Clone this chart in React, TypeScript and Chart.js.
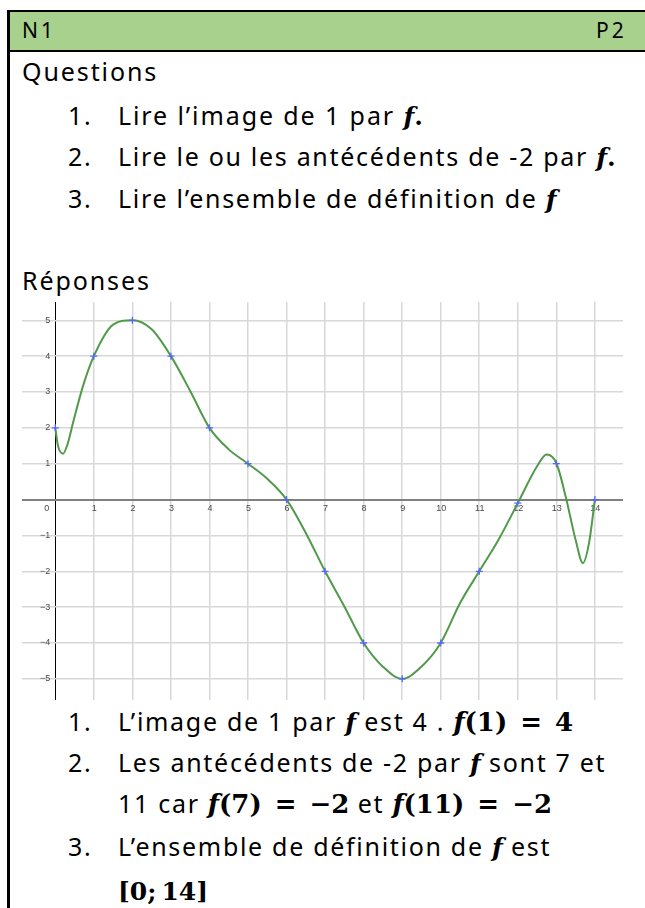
import React, { useEffect, useRef } from "react";
import { Chart, registerables } from "chart.js";

Chart.register(...registerables);

// ---- data ----
const curveX = [0, 0.07, 0.2, 0.32, 0.46, 0.72, 1, 1.5, 2, 2.5, 3, 3.5, 4, 4.5, 5, 5.5, 6, 6.5, 7, 7.5, 8, 8.5, 9, 9.5, 10, 10.5, 11, 11.5, 12, 12.5, 12.75, 13, 13.25, 13.5, 13.69, 13.85, 14];
const curveY = [2, 1.5, 1.28, 1.55, 2.14, 3.17, 4, 4.88, 5, 4.75, 4, 3.03, 2, 1.4, 1, 0.58, 0, -0.93, -2, -2.98, -4, -4.66, -5, -4.66, -4, -2.89, -2, -1.12, -0.1, 0.93, 1.26, 1.02, 0.05, -1.12, -1.77, -1.2, 0];
const markX = [0, 1, 2, 3, 4, 5, 6, 7, 8, 9, 10, 11, 12, 13, 14];
const markY = [2, 4, 5, 4, 2, 1, 0, -2, -4, -5, -4, -2, -0.1, 1, 0];
const xTicks = [0, 1, 2, 3, 4, 5, 6, 7, 8, 9, 10, 11, 12, 13, 14];
const yTicks = [-5, -4, -3, -2, -1, 0, 1, 2, 3, 4, 5];
const xRange = [-0.864, 14.73];
const yRange = [-5.59, 5.51];

const HAND = '"Noto Sans", sans-serif';
const MATH = '"DejaVu Serif", "Liberation Serif", serif';

const axisLabels = {
  id: "axisLabels",
  beforeDatasetsDraw(chart: any) {
    const { ctx, scales } = chart;
    const sx = scales.x;
    const sy = scales.y;
    const x0 = sx.getPixelForValue(0);
    const y0 = sy.getPixelForValue(0);
    ctx.save();
    ctx.font = '9px "Liberation Sans", Arial, sans-serif';
    ctx.fillStyle = "#4a4a4a";
    ctx.textAlign = "center";
    ctx.textBaseline = "top";
    xTicks.forEach((v) => {
      const px = sx.getPixelForValue(v) + (v === 0 ? -8.5 : 0.5);
      ctx.fillText(String(v), px, y0 + 4);
    });
    ctx.textAlign = "right";
    ctx.textBaseline = "middle";
    yTicks
      .filter((v) => v !== 0)
      .forEach((v) => {
        ctx.fillText(v < 0 ? "\u2212" + -v : String(v), x0 - 5, sy.getPixelForValue(v));
      });
    ctx.restore();
  },
};

function Graph() {
  const ref = useRef<HTMLCanvasElement | null>(null);
  useEffect(() => {
    if (!ref.current) return;
    const chart = new Chart(ref.current, {
      type: "line",
      data: {
        datasets: [
          {
            label: "points",
            data: markX.map((v, i) => ({ x: v, y: markY[i] })),
            showLine: false,
            pointStyle: "cross",
            pointRadius: 3.5,
            pointBorderColor: "#5566ff",
            pointBorderWidth: 1.3,
            borderColor: "#5566ff",
          },
          {
            label: "f",
            data: curveX.map((v, i) => ({ x: v, y: curveY[i] })),
            borderColor: "#519a4a",
            borderWidth: 2,
            pointRadius: 0,
            cubicInterpolationMode: "monotone",
            fill: false,
          },
        ],
      },
      options: {
        animation: false,
        responsive: true,
        maintainAspectRatio: false,
        events: [],
        layout: { padding: 0, autoPadding: false },
        plugins: { legend: { display: false }, tooltip: { enabled: false } },
        scales: {
          x: {
            type: "linear",
            min: xRange[0],
            max: xRange[1],
            afterBuildTicks: (s: any) => {
              s.ticks = xTicks.map((v) => ({ value: v }));
            },
            ticks: { display: false },
            border: { display: false },
            grid: {
              drawTicks: false,
              color: (c: any) => (c.tick && c.tick.value === 0 ? "#000000" : "#d8d8d8"),
              lineWidth: (c: any) => (c.tick && c.tick.value === 0 ? 1 : 1.5),
            },
          },
          y: {
            type: "linear",
            min: yRange[0],
            max: yRange[1],
            afterBuildTicks: (s: any) => {
              s.ticks = yTicks.map((v) => ({ value: v }));
            },
            ticks: { display: false },
            border: { display: false },
            grid: {
              drawTicks: false,
              color: (c: any) => (c.tick && c.tick.value === 0 ? "#808080" : "#d8d8d8"),
              lineWidth: (c: any) => (c.tick && c.tick.value === 0 ? 2 : 1.5),
            },
          },
        },
      },
      plugins: [axisLabels],
    } as any);
    return () => chart.destroy();
  }, []);
  return (
    <div style={{ position: "absolute", left: 22, top: 302, width: 601, height: 398 }}>
      <canvas ref={ref} />
    </div>
  );
}

const mathBase: React.CSSProperties = { fontFamily: MATH, fontWeight: 700, fontSize: 25, letterSpacing: 0 };
const F = () => <span style={{ ...mathBase, fontStyle: "italic" }}>f</span>;
const Eq = () => <span style={{ margin: "0 13px" }}>=</span>;
const M = ({ children, size = 25 }: { children: React.ReactNode; size?: number }) => (
  <span style={{ ...mathBase, fontSize: size }}>{children}</span>
);

function Line({ base, left, size = 25, ls = 1.7, children }: { base: number; left: number; size?: number; ls?: number; children: React.ReactNode }) {
  return (
    <div
      style={{
        position: "absolute",
        left,
        top: base - size * 0.888,
        fontSize: size,
        lineHeight: `${size}px`,
        whiteSpace: "nowrap",
        fontFamily: HAND,
        letterSpacing: `${ls}px`,
        color: "#000",
      }}
    >
      {children}
    </div>
  );
}

export default function App() {
  const NUM = 68;
  const TXT = 118;
  return (
    <div style={{ position: "fixed", left: 0, top: 0, width: 645, height: 908, overflow: "hidden", background: "#fff" }}>
      <div style={{ position: "absolute", left: 10, top: 12, width: 640, height: 38, background: "#a9d18e" }} />
      <div style={{ position: "absolute", left: 7, top: 10, width: 645, height: 2, background: "#000" }} />
      <div style={{ position: "absolute", left: 7, top: 50, width: 645, height: 2, background: "#000" }} />
      <div style={{ position: "absolute", left: 7, top: 10, width: 3, height: 900, background: "#000" }} />

      <Line base={39} left={22} size={21} ls={3}>N1</Line>
      <Line base={39} left={596} size={21} ls={3}>P2</Line>

      <Line base={81} left={22} ls={1.9}>Questions</Line>
      <Line base={125} left={NUM}>1.</Line>
      <Line base={125} left={TXT} ls={1.9}>Lire l’image de 1 par <F /><M>.</M></Line>
      <Line base={166} left={NUM}>2.</Line>
      <Line base={166} left={TXT}>Lire le ou les antécédents de -2 par <F /><M>.</M></Line>
      <Line base={208} left={NUM}>3.</Line>
      <Line base={208} left={TXT}>Lire l’ensemble de définition de <F /></Line>

      <Line base={290} left={22} ls={1.9}>Réponses</Line>

      <Graph />

      <Line base={731} left={NUM}>1.</Line>
      <Line base={731} left={TXT}>L’image de 1 par <F /> est 4 . <M size={26}><i>f</i>(1)<Eq />4</M></Line>
      <Line base={772} left={NUM}>2.</Line>
      <Line base={772} left={TXT}>Les antécédents de -2 par <F /> sont 7 et</Line>
      <Line base={813} left={TXT}>11 car <M size={26}><i>f</i>(7)<Eq />−2</M> et <M size={26}><i>f</i>(11)<Eq />−2</M></Line>
      <Line base={856} left={NUM}>3.</Line>
      <Line base={856} left={TXT}>L’ensemble de définition de <F /> est</Line>
      <Line base={900} left={TXT}><M>[0;<span style={{ marginLeft: 5 }} />14]</M></Line>
    </div>
  );
}
